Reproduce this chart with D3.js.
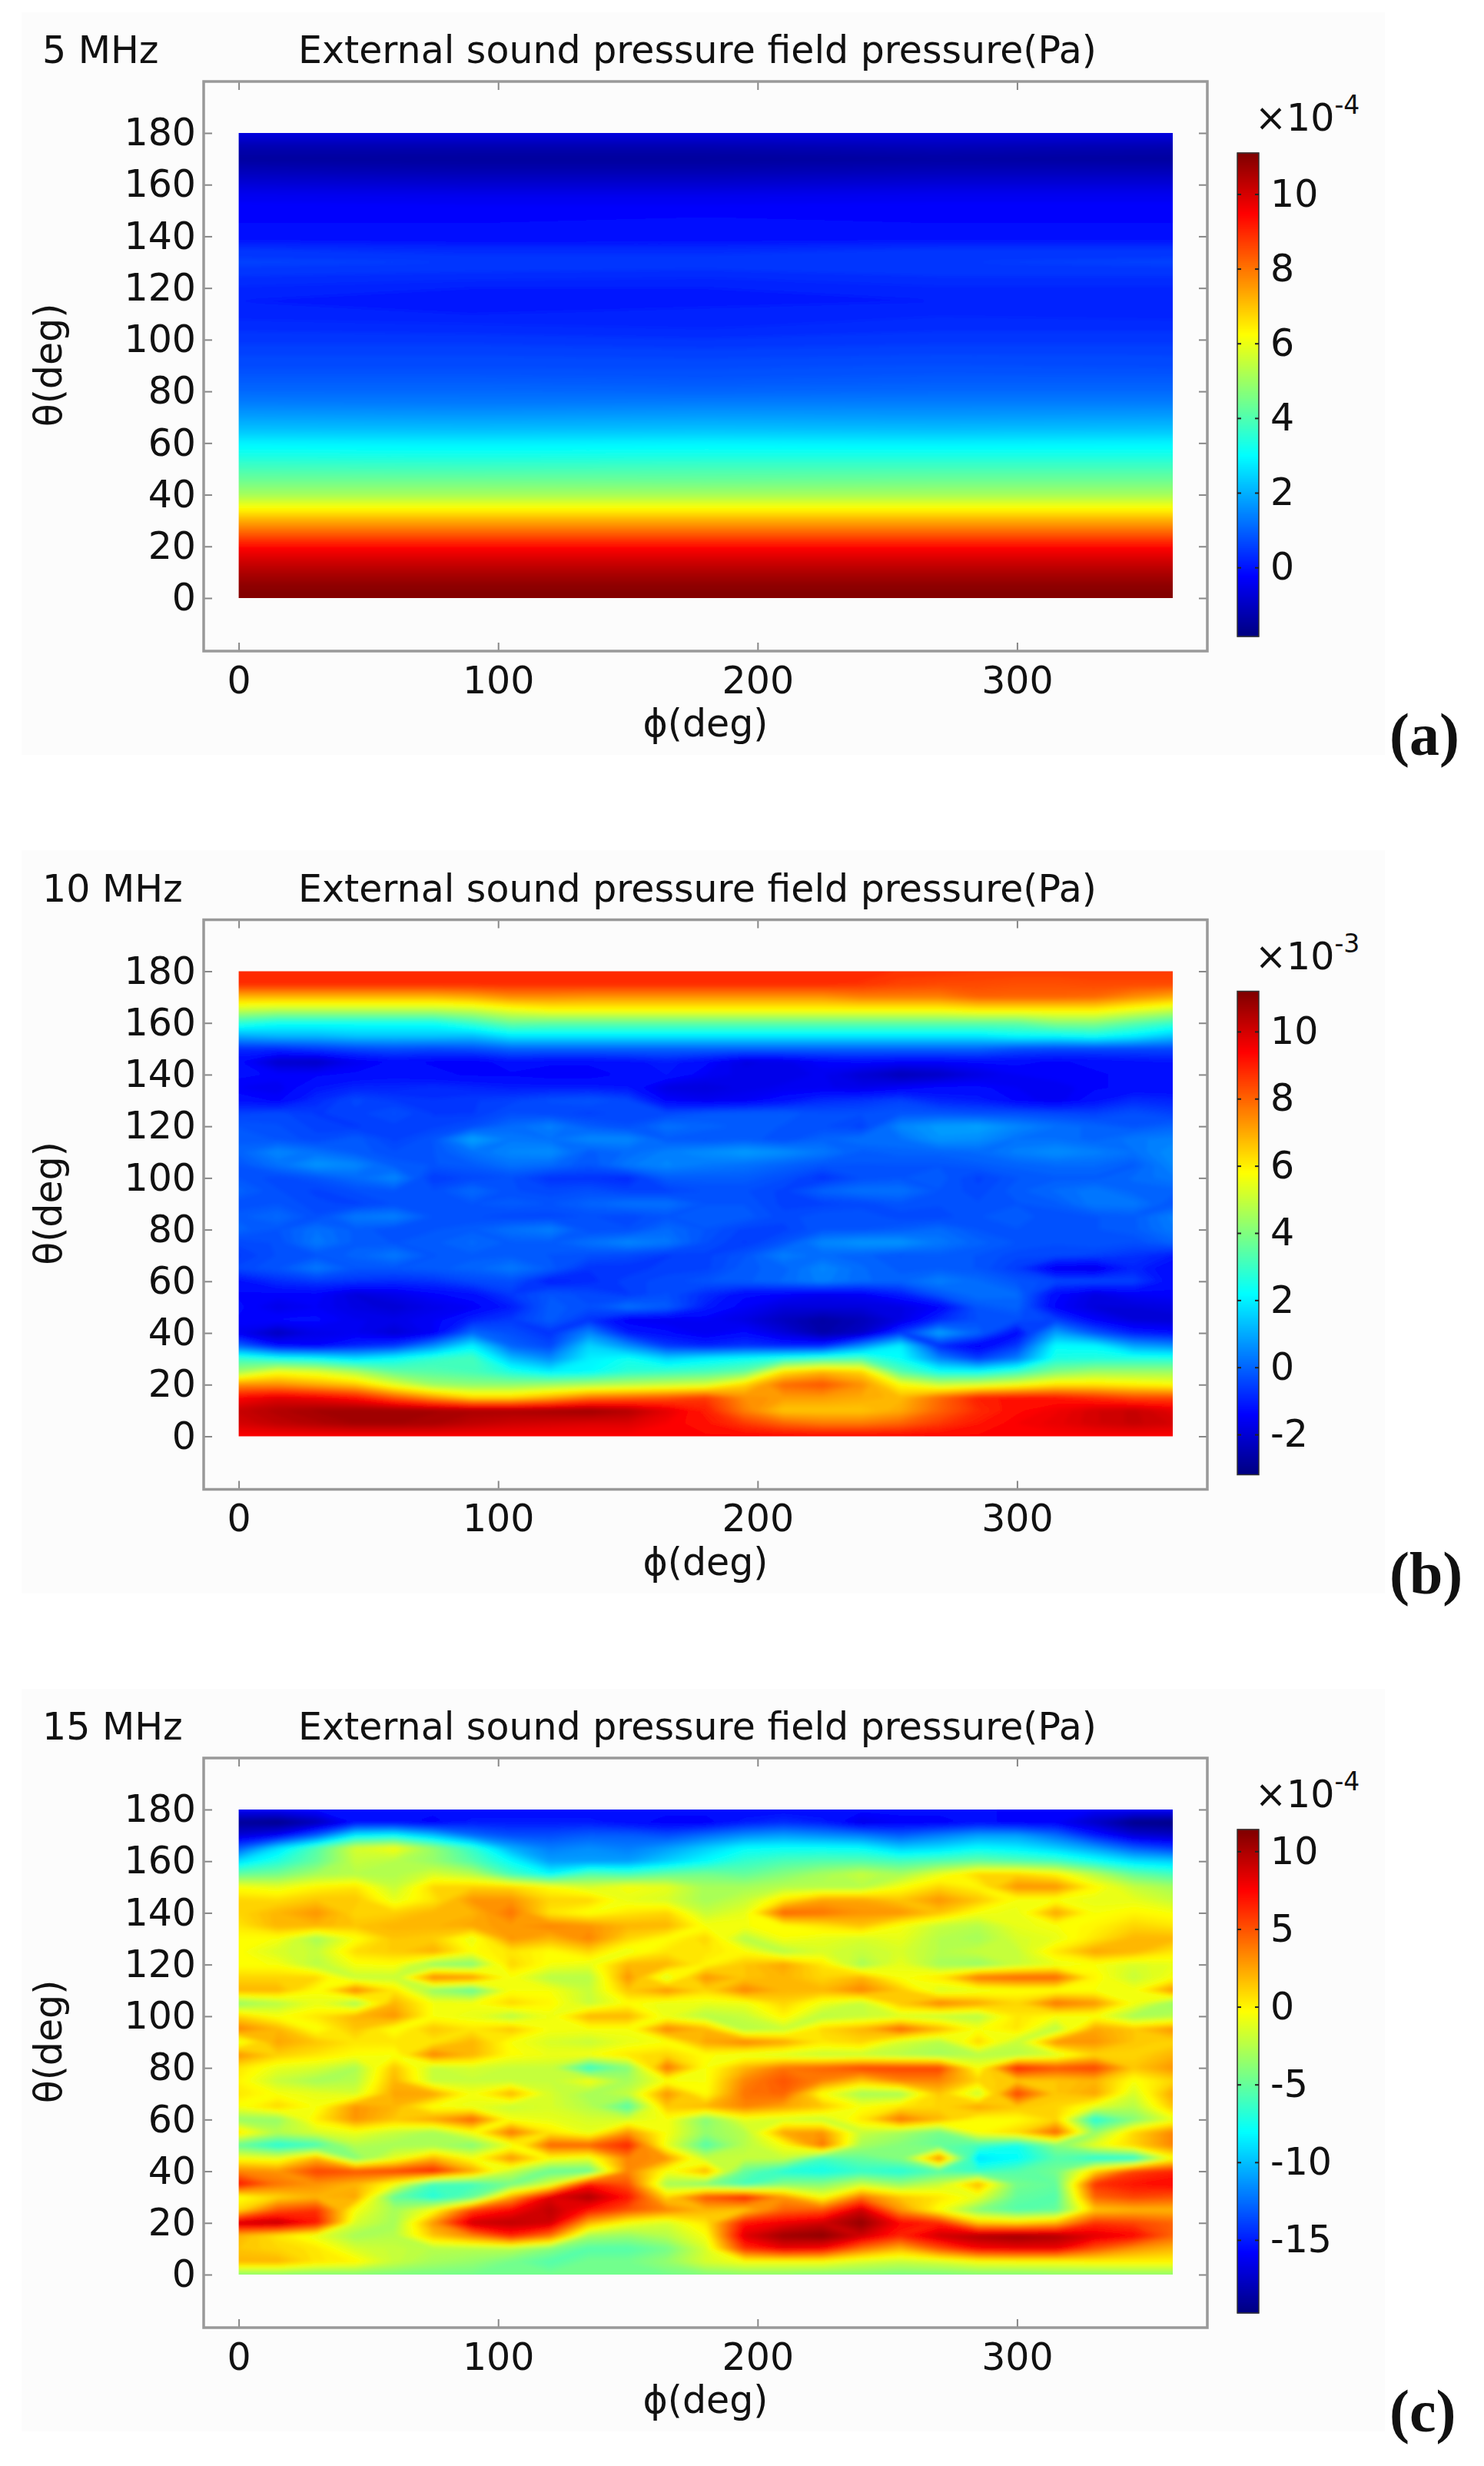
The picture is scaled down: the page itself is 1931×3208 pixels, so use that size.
<!DOCTYPE html>
<html>
<head>
<meta charset="utf-8">
<script src="https://cdnjs.cloudflare.com/ajax/libs/d3/7.8.5/d3.min.js"></script>
<style>
  body { margin: 0; background: #fff; }
  text { font-family: "DejaVu Sans", sans-serif; fill: #111; }
</style>
</head>
<body>
<svg id="chart" width="1931" height="3208"></svg>
<script>
// External sound pressure field, three frequencies

const xTicks = [0, 100, 200, 300];
const yTicks = [0, 20, 40, 60, 80, 100, 120, 140, 160, 180];
const thetaStep = 5;

const labels = ['5 MHz', '10 MHz', '15 MHz'];
const letters = ['(a)', '(b)', '(c)'];
const exponents = ['-4', '-3', '-4'];
const barTicks = [[0, 2, 4, 6, 8, 10], [-2, 0, 2, 4, 6, 8, 10], [-15, -10, -5, 0, 5, 10]];
const barRanges = [[-1.85, 11.1], [-3.2, 11.2], [-19.7, 11.4]];

// pressure, rows go from theta 180 down to 0
// 5 MHz, columns at phi 0, 90, 180, 270, 360
const values5 = [
  [-0.6, -0.6, -0.6, -0.6, -0.6],
  [-1.2, -1.2, -1.2, -1.1, -1.2],
  [-1.45, -1.5, -1.5, -1.4, -1.45],
  [-1.1, -1.2, -1.2, -1.1, -1.1],
  [-0.7, -0.8, -0.8, -0.7, -0.7],
  [-0.35, -0.4, -0.4, -0.35, -0.35],
  [-0.25, -0.25, -0.25, -0.25, -0.25],
  [-0.2, -0.2, -0.15, -0.2, -0.2],
  [-0.1, -0.2, -0.15, -0.1, -0.1],
  [0.4, 0.3, 0.3, 0.4, 0.4],
  [0.55, 0.5, 0.5, 0.5, 0.55],
  [0.4, 0.35, 0.3, 0.4, 0.4],
  [0.25, 0.15, 0.15, 0.25, 0.25],
  [0.15, 0.05, 0.1, 0.15, 0.15],
  [0.2, 0.15, 0.2, 0.25, 0.2],
  [0.35, 0.3, 0.25, 0.35, 0.35],
  [0.45, 0.45, 0.4, 0.45, 0.45],
  [0.6, 0.6, 0.55, 0.6, 0.6],
  [0.7, 0.7, 0.7, 0.75, 0.7],
  [0.9, 0.9, 0.85, 0.9, 0.9],
  [1.1, 1.1, 1.05, 1.1, 1.1],
  [1.4, 1.35, 1.4, 1.4, 1.4],
  [1.8, 1.75, 1.8, 1.75, 1.8],
  [2.25, 2.2, 2.25, 2.2, 2.25],
  [2.85, 2.8, 2.85, 2.8, 2.85],
  [3.35, 3.3, 3.35, 3.35, 3.35],
  [3.9, 3.85, 3.9, 3.9, 3.9],
  [4.45, 4.45, 4.4, 4.45, 4.45],
  [5.1, 5.1, 5.1, 5.1, 5.1],
  [6.2, 6.2, 6.2, 6.2, 6.2],
  [7.3, 7.3, 7.3, 7.3, 7.3],
  [8.3, 8.3, 8.3, 8.3, 8.3],
  [9.4, 9.4, 9.4, 9.4, 9.4],
  [10.0, 10.0, 10.0, 10.0, 10.0],
  [10.5, 10.5, 10.5, 10.5, 10.5],
  [10.9, 10.9, 10.9, 10.9, 10.9],
  [11.1, 11.1, 11.1, 11.1, 11.1]
];

// 10 MHz, columns every 15 deg of phi
const values10 = [
  [8.8,8.8,8.8,8.8,8.8,8.8,8.8,8.8,8.8,8.8,8.8,8.8,8.8,8.8,8.8,8.8,8.8,8.7,8.7,8.6,8.6,8.6,8.6,8.6,8.6],
  [8.8,8.8,8.8,8.8,8.8,8.8,8.8,8.8,8.8,8.8,8.8,8.8,8.8,8.8,8.8,8.8,8.7,8.5,8.4,8.4,8.3,8.3,8.4,8.4,8.4],
  [6.8,6.8,6.8,6.8,6.8,6.8,7.0,7.4,7.4,7.3,7.3,7.3,7.3,7.3,7.3,7.3,7.6,7.6,7.6,8.0,8.0,8.0,7.9,7.4,7.0],
  [5.0,4.8,4.8,4.8,4.8,4.8,5.0,5.5,5.8,5.8,5.8,5.8,5.8,5.8,5.8,5.8,5.8,5.8,5.8,6.0,6.0,6.0,6.0,5.5,5.0],
  [2.8,2.4,2.4,2.4,2.4,2.4,3.0,3.7,3.6,3.6,3.6,3.6,3.6,3.6,3.6,3.6,3.6,3.6,3.6,3.6,3.6,4.1,4.1,3.5,3.0],
  [1.0,1.2,1.2,1.4,1.4,1.4,1.3,1.9,1.9,1.9,1.9,1.9,1.9,1.9,1.9,1.9,1.9,1.9,1.9,1.9,2.2,2.2,2.4,2.0,1.4],
  [-0.8,-0.8,-0.6,-0.4,-0.3,-0.4,-0.3,0,0,0,0,0,0,0,0,0,0,0,0,0,-0.3,-0.4,-0.4,-0.4,-0.4],
  [-1.3,-2.1,-2.2,-1.6,-1.3,-1.4,-1.5,-1.2,-1.3,-1.3,-1.2,-1.0,-1.3,-1.8,-1.7,-1.4,-1.3,-1.4,-1.4,-1.3,-1.3,-1.4,-1.3,-1.2,-1.1],
  [-1.3,-1.4,-1.4,-1.3,-1.2,-1.3,-1.4,-1.4,-1.5,-1.5,-1.3,-1.1,-1.5,-1.7,-1.7,-1.6,-2.0,-2.4,-2.2,-1.8,-1.5,-1.4,-1.4,-1.3,-1.3],
  [-1.5,-1.6,-1.1,-0.9,-0.9,-0.8,-0.9,-1,-1,-1,-1.1,-1.8,-1.9,-1.7,-1.6,-1.6,-1.7,-1.5,-1.3,-1.3,-1.5,-1.6,-1.4,-1.3,-1.3],
  [-1.2,-1.4,-0.8,-0.4,-0.6,-0.7,-0.6,-0.5,-0.3,-0.2,-0.4,-1.4,-1.6,-1.5,-1.2,-0.8,-0.7,-0.5,-0.9,-1,-1.4,-1.6,-1.2,-0.8,-0.9],
  [-0.5,-0.4,-0.6,-0.5,-0.3,-0.6,-0.6,-0.3,-0.4,-0.5,-0.4,-0.4,-0.2,-0.1,-0.1,-0.3,-0.3,-0.2,-0.2,-0.3,-0.3,-0.4,-0.5,-0.3,-0.5],
  [-0.2,-0.3,-0.5,-0.6,-0.5,-0.5,-0.3,0.1,0.4,-0.1,-0.3,0.2,0,-0.1,-0.2,-0.3,-0.5,0.5,0.8,0.9,0.5,0.2,0,-0.2,0],
  [-0.1,-0.2,-0.4,-0.1,-0.5,-0.2,0.9,0.3,0.2,0.5,0.5,-0.1,-0.2,-0.1,-0.3,0,0.2,0.2,0.7,0.6,0.2,0.2,0,0.3,0.4],
  [0,0.5,0.2,-0.1,-0.3,-0.2,0.2,0.5,0.6,-0.1,0.1,0.4,0.6,0.8,0.6,0.3,-0.1,0,0,0.1,0.4,0.6,0.4,0.2,0.6],
  [-0.2,0.2,0.7,0.5,-0.1,-0.2,-0.1,0.2,0.1,-0.2,0.3,0.5,0.3,0.2,0,-0.2,-0.2,-0.2,-0.2,-0.1,0,0.1,0.1,-0.1,0.5],
  [-0.2,-0.4,-0.2,0.1,0.5,-0.6,-0.4,-0.3,-0.7,-0.7,-0.8,-0.1,-0.1,-0.1,-0.3,-0.7,-0.3,-0.2,-0.1,-0.5,-0.2,-0.1,-0.1,0.1,0.3],
  [0,-0.3,-0.5,-0.3,-0.2,-0.3,0.1,-0.3,-0.4,-0.3,-0.5,-0.5,-0.3,-0.3,-0.5,0,0.2,0.2,-0.2,-0.4,-0.1,0.1,0.3,0,0],
  [-0.3,-0.2,-0.4,-0.5,-0.3,-0.3,-0.2,-0.1,-0.2,0,0.2,0.2,-0.2,-0.2,-0.5,-0.5,-0.4,-0.2,-0.3,-0.3,-0.2,-0.1,0.3,0.3,-0.2],
  [-0.1,0.1,-0.3,0.3,0.4,-0.2,-0.3,-0.4,-0.4,-0.3,-0.4,-0.2,-0.1,-0.1,-0.4,-0.2,-0.2,-0.4,-0.4,-0.2,-0.1,-0.3,-0.2,-0.1,0.4],
  [0,-0.2,0.2,-0.1,-0.3,-0.2,-0.1,0.2,0.4,-0.3,-0.3,0.1,-0.2,-0.5,-0.5,-0.2,-0.2,-0.1,0.1,-0.2,-0.2,-0.3,-0.2,-0.1,0.3],
  [-0.4,-0.3,0.3,-0.1,-0.2,-0.1,0.1,-0.1,-0.1,0.2,0.5,0.3,-0.3,-0.6,-0.2,0.5,0.7,0.7,0.3,0,-0.2,-0.3,-0.2,-0.3,0],
  [-0.6,-0.3,-0.2,0,0.3,-0.2,-0.1,-0.1,-0.2,-0.3,-0.4,-0.6,-0.5,-0.2,0.4,0.1,0,-0.2,-0.1,-0.2,-0.4,-0.4,-0.5,-0.7,-1],
  [-0.4,-0.2,0.3,-0.2,-0.2,-0.1,0,0.3,-0.1,-0.7,-0.7,-0.5,-0.5,-0.1,0,0.5,0.1,-0.1,-0.1,-0.2,-0.6,-1.6,-1.7,-0.9,-1.3],
  [-1.2,-0.8,-0.6,-0.7,-0.8,-0.7,-0.4,-0.3,-1.0,-0.8,-0.5,-0.4,-0.2,-0.1,0.1,0.4,0.1,0,0.4,0.1,-0.2,-0.4,-0.4,-0.5,-1.3],
  [-1.4,-1.4,-1.4,-1.9,-1.7,-1.4,-1.2,-0.6,-0.2,-0.4,-0.6,-0.3,-0.8,-1.3,-1.4,-1.6,-1.5,-1.0,-0.2,0.2,0.1,-1.3,-1.8,-1.5,-1.4],
  [-1.3,-1.7,-1.5,-1.8,-2,-1.7,-1.5,-1,-0.1,-0.3,0.2,-0.1,-1.0,-1.5,-1.9,-1.9,-1.9,-1.8,-1.4,-0.2,0,-1.4,-1.9,-1.9,-1.8],
  [-1.4,-1.3,-1.3,-1.6,-1.7,-1.5,-0.9,-0.6,-0.1,-0.7,-1.5,-1.6,-1.5,-1.8,-2.3,-2.7,-2.4,-1.8,-0.8,-0.3,-0.3,-0.5,-1.4,-1.9,-2.0],
  [-1.6,-2.3,-1.7,-1.6,-2.0,-1.5,0.1,-0.3,-0.7,0.5,-1.0,-1.3,-1.6,-1.3,-1.9,-2.6,-2.2,-0.6,0.9,0,-1.3,0.9,-0.2,-1.0,-1.2],
  [0,-1.2,-1.4,-0.9,-0.6,0.6,2,0,-0.4,1.6,0.6,-0.6,-0.9,-0.7,-0.9,-0.9,0.6,2.0,-0.8,-1.5,-0.6,2.2,2.1,0.9,0.6],
  [3.0,2.5,2.3,1.8,2.3,2.9,3.2,1.3,0.6,2.0,2.4,1.6,2.0,2.3,2.7,3.1,3.3,2.3,0.5,-0.5,0.4,2.6,2.7,2.7,2.7],
  [4.5,5.6,5.3,4.6,3.6,3.4,3.2,2.6,2.0,2.2,2.8,3.0,3.2,3.6,6.2,6.8,6.4,3.4,2.4,2.3,3.0,4,4.4,4.4,4.4],
  [7.4,7.4,7.0,6.6,5.4,4.4,4.2,4.2,4.4,4.6,4.8,5,5.2,6.4,7.9,8.2,7.4,5.8,5.0,5.2,5.6,6.2,6.2,6.0,5.8],
  [9.4,9.8,9.6,9.2,8.2,7.3,6.4,6.4,7,7.8,8,8.2,8.6,7.4,7.2,7.2,7.0,6.8,7.9,9,9.2,9.1,8.8,8.4,8.4],
  [10.2,10.5,10.7,10.8,10.8,10.7,10.6,10.6,10.7,10.8,10.5,9.8,9.0,7.6,6.6,6.6,6.6,7.0,8,8.8,9.3,9.6,10,10.2,9.8],
  [10,10.3,10.5,10.7,10.7,10.6,10.3,10.1,10,9.9,9.9,9.5,9.2,8.6,8,7.7,7.7,8,8.6,9.1,9.5,9.7,10,10.2,10],
  [9.4,9.4,9.4,9.4,9.4,9.4,9.4,9.4,9.4,9.4,9.4,9.4,9.4,9.4,9.4,9.4,9.4,9.4,9.4,9.4,9.4,9.4,9.4,9.4,9.4]
];

// 15 MHz, columns every 15 deg of phi
const values15 = [
  [-16,-16,-15.5,-15.5,-15.5,-15.5,-15.5,-15.5,-15.5,-15.5,-15.5,-15.5,-15.5,-15.5,-15.5,-15.5,-15.5,-15.5,-15.5,-15.5,-16,-16,-16,-16,-16],
  [-19,-19.3,-18,-15.5,-15.5,-16,-15,-15,-15,-15,-15.5,-16,-16,-15,-14.5,-15,-16.5,-16,-16,-15.5,-16,-16,-17.5,-19.3,-19.5],
  [-17,-16,-13,-8.5,-8,-10,-12.5,-13.5,-13.5,-13,-13,-13.5,-12.5,-11.5,-11,-11.5,-12,-13,-12,-11,-11,-12.5,-15,-17,-17.5],
  [-13,-9,-5.5,-1.5,-0.5,-3.5,-6.5,-10.5,-12,-11.5,-12,-11,-9.5,-8,-7.8,-7.8,-8,-9.5,-9,-8,-8.5,-9.5,-11,-13,-14],
  [-9,-7,-5,-2,-2.5,-3.5,-5.5,-8,-11,-11,-11,-9.5,-8,-6.5,-5.8,-5.5,-5.5,-6,-5.5,-5,-5.5,-6,-7.5,-9,-9.5],
  [-5,-4.5,-3,-2.5,-2.7,-1.5,-2.5,-6,-8,-5.5,-6,-5,-4.5,-5,-4,-3,-2,-3,-1,1,1,0,-2.5,-5,-6],
  [-0.5,-1,0,0.5,-2,1,1.2,1,-0.3,-1.5,-0.5,-1,-3,-3,-2.5,-2.5,-2.5,-0.5,1,0,3,3,0,-2,-3],
  [1,0.8,1.5,1.5,-1,0.5,3,3,1,1,-1,-1.5,-3,-2,0.5,2.5,2.5,1.5,3,1.5,-0.5,-0.5,-1,-1,-2],
  [1,2,3,1,1.2,2,2,4,0.5,-0.5,0.5,1,-2,-1,4.5,4,3,3,1.5,-0.5,-1,2.5,-0.5,0,-0.5],
  [0.5,2,2,1.5,2,2,2.5,2.8,3.5,3,2,2,-0.5,-0.5,-0.3,0.5,1.5,-0.5,-2,-2.5,-1,-0.5,0,1,0.5],
  [-0.3,-0.5,-3,-0.5,1.5,1.2,-1,3,2,3.5,1,-0.3,1,-2.5,-0.5,-1,-1.5,-1,-2.5,-3,-1.5,-1,0.5,2,2],
  [-0.3,-1.5,-2,0.8,1.3,2.2,-0.3,0.5,-0.3,1,-1,0.5,0.5,-0.3,-2.5,-1.5,-2,-1.5,-2.5,-2,-2,0.5,2.5,2,0.5],
  [-0.4,-0.5,-2.5,-0.5,-0.3,-3.5,-4,1,-0.5,-1,2,2,0,1.5,2.5,0.5,-3,-1,-3,-3.5,-2,-1,-0.5,-1.5,-1],
  [1,1,1,-2,-2,3.5,3,-0.5,-2.5,-2.5,3,-1.5,3,1.5,2,1,2,-0.5,0.5,4,4.5,4.5,0,-2,-0.5],
  [2,2,-0.3,3.5,0.5,-3.5,-5,-0.5,-0.5,-2,1.5,3,1,3.5,2,2,3.5,1.5,-1.5,-1,-0.5,-0.5,-0.5,-0.5,3],
  [-3.5,-2.5,-1,-3,2,-0.5,-0.5,1,0,-2,-0.3,-1,-1,-0.8,1,-0.8,-2,1.5,3.5,2.5,1,4,3,-0.5,-3.5],
  [1,-0.5,0.5,2,3,-0.5,-1,-2.5,-0.8,2,2,-1,-2.5,-2,0,-2.5,-2,-1.5,-2,-2.5,0.5,-0.5,-0.5,-3,-2.5],
  [3.5,2,-0.5,1.5,-0.5,1.5,0.5,1.5,-0.5,-0.5,-0.5,3.5,2,-2.5,-2,1,2,4.5,2,-0.5,0.5,-2.5,2.5,1.5,3],
  [-1,2.5,1.5,0.5,0.5,0.5,2,-0.5,-1.5,-2,-1,-0.5,2.5,3.5,2.5,0.5,1,-1.5,-2.5,1,-2,3,3,1.5,1],
  [3,1.2,0.5,-0.3,-0.5,3.5,2,-0.3,-0.8,-0.5,0.5,1,-0.3,-1,-1.5,-2,-2,-2.5,-3,-2.5,-2.5,-1.5,1,1,2],
  [0.5,-1,-1.5,-2.8,1.5,-2,-1.5,-2,-2,-6.5,-4,4,-0.5,2,4,4.5,5.5,5.5,5.5,-0.5,6.5,5,5.5,1.5,3],
  [0,-2,-3,-2.5,2,-2,-2,-2,-2,-0.5,-3,-0.5,-0.5,3.5,5,3.5,1.5,3.5,3.5,1,1.5,1.5,2,-0.5,1],
  [0.5,-0.5,-1,-1.5,2.5,2.5,-0.5,2,-1.5,-3,-2,3,-0.3,4,4.5,-0.5,-3,-3,1.5,-2,5.5,1.5,2.5,-1.5,2.5],
  [-0.5,1,-0.5,3,2,-0.5,-1,-2,-1.5,-2.5,-5.5,1.5,2,3.5,2.5,1.5,-0.5,0.5,1,2.5,1.5,1,-1,-2.5,1.5],
  [-3.5,-3.5,0.3,3,1.5,2.5,4.5,-0.5,-1,-1.5,-1.5,-0.5,-4,-1,-1.5,-2,0.5,4,2,-0.3,-0.3,1,-7,-4,-1],
  [0.5,-2.5,-1.5,-0.8,-2,-3,-0.5,4,0.5,-1,3,-0.5,-3.5,-2.5,2.5,3,-2,-3,-4.5,-0.3,1,4.5,-3.5,1,3.5],
  [-5,-7,-6,-2.5,-3,-3,-4,-1,4.5,4.5,6.5,-1,-5.5,-2.5,-0.5,4,-3,-4,-5,-6,-7.5,-4,-1,1,3.5],
  [-0.5,-1,2,-4,-1,2,-0.5,3,-0.3,-1,3.5,3,-2,-2,-2,-6,-5,-4,3.5,-9,-8,-5.5,-7,-7,-0.5],
  [3.5,3,5.5,5,5.5,6.5,2.5,-2,-5,-5,3.5,-0.5,2,-5,-7,-7.5,-6.5,-7,-5.5,-6.5,-5.5,-4.5,1,5.5,6.5],
  [7,4,3,2,-0.5,-6,-6,-4.5,-1.5,7,5,-3,-4,-6,-4,-4,-2,-3.5,-2,2,-4.5,-5,6,7,7.5],
  [-0.5,1,2,2.5,-5,-7,-5,2.5,8.5,10,7,1,5,6.5,3,-0.5,4,1.5,0.5,-1,-5,-5.5,4.5,5.5,5],
  [1,5,6,-0.5,-3,-0.5,5.5,7.5,9.5,7,5,3.5,2,1.5,4.5,5,9,3,-0.5,-4,-5.5,-5,1.5,2,2],
  [9,9.5,7,-1.5,-3,3,9,9.5,9,2,-0.5,-1.5,0.5,7,8,9,10.8,7.5,6.5,1.5,1,2,6,5.5,4.5],
  [2,0.5,-1,-3,-2.5,1.5,3.5,6.5,4,-3,-3.5,-2.5,-0.5,8.5,10.5,11,9,6.5,9,10,10.5,10,8.5,7.5,4.5],
  [1.5,1,0.5,-1.5,-2,-2.5,-2.5,-2.5,-4,-5.5,-5.5,-4.5,-1.5,6,8,7.5,4,2,5,7.5,8,8,5,3,2],
  [2,2,0.5,0,-2,-3,-3.5,-4.5,-5.5,-4.5,-4.5,-3.5,-1.5,-0.5,-0.5,-0.5,-1.5,-2,-1.5,-0.5,-0.3,-0.3,0,0,0],
  [-3.8,-3.8,-4,-4,-4.2,-4.4,-4.5,-4.5,-4.5,-4.5,-4.5,-4.5,-4,-3.8,-3.8,-4,-4,-4.2,-4.2,-4,-4,-3.8,-3.8,-3.6,-3.6]
];

const grids = [values5, values10, values15];

// layout, panels repeat every 1090.5 px
const panelStep = 1090.5;
const plot = { left: 310.6, right: 1526, top: 173, bottom: 778 };
const frame = { left: 265, right: 1571, top: 106, bottom: 847 };
const bar = { left: 1610, right: 1638, top: 199, bottom: 828 };
const fontSize = 49;

// jet colormap as COMSOL draws it
const jet = d3.scaleLinear()
  .domain([0, 0.125, 0.375, 0.625, 0.875, 1])
  .range(['#00007f', '#0000ff', '#00ffff', '#ffff00', '#ff0000', '#7f0000']);

const svg = d3.select('#chart');

const x = d3.scaleLinear().domain([0, 360]).range([plot.left, plot.right]);
const y = d3.scaleLinear().domain([0, 180]).range([plot.bottom, plot.top]);

const defs = svg.append('defs');
defs.append('filter').attr('id', 'soften')
  .attr('x', '-5%').attr('y', '-5%').attr('width', '110%').attr('height', '110%')
  .append('feGaussianBlur').attr('stdDeviation', 2.5);
defs.append('clipPath').attr('id', 'plot-clip')
  .append('rect')
  .attr('x', plot.left).attr('y', plot.top)
  .attr('width', plot.right - plot.left).attr('height', plot.bottom - plot.top);

function drawPanel(i) {
  const grid = grids[i];
  const range = barRanges[i];
  const colour = d3.scaleSequential(v => jet(v)).domain(range);

  const g = svg.append('g').attr('transform', 'translate(0,' + (i * panelStep) + ')');

  g.append('rect')       // slightly grey backing of the screenshot
    .attr('x', 28).attr('y', 16)
    .attr('width', 1774).attr('height', 966)
    .attr('fill', '#fcfcfc');

  // field: stacked filled contours of the value grid
  const nRows = grid.length;
  const nCols = grid[0].length;
  const phiStep = 360 / (nCols - 1);
  const flat = d3.merge(grid);
  const thresholds = d3.range(range[0], range[1], (range[1] - range[0]) / 110);
  const contours = d3.contours().size([nCols, nRows]).thresholds(thresholds)(flat);

  // contour coordinates are offset half a cell from the grid points
  const project = d3.geoTransform({
    point: function (cx, cy) {
      this.stream.point(x((cx - 0.5) * phiStep), y(180 - (cy - 0.5) * thetaStep));
    }
  });
  const path = d3.geoPath(project);

  const field = g.append('g').attr('clip-path', 'url(#plot-clip)')
    .append('g').attr('filter', 'url(#soften)');

  field.append('rect')
    .attr('x', plot.left - 20).attr('y', plot.top - 20)
    .attr('width', plot.right - plot.left + 40).attr('height', plot.bottom - plot.top + 40)
    .attr('fill', colour(range[0]));

  field.selectAll('path')
    .data(contours)
    .enter()
    .append('path')
    .attr('d', path)
    .attr('fill', d => colour(d.value + (range[1] - range[0]) / 220));

  // frame with inward ticks on all four sides
  const xBottom = d3.axisBottom(x).tickValues(xTicks).tickSize(-11).tickPadding(20);
  const xTop = d3.axisTop(x).tickValues(xTicks).tickSize(-11).tickFormat('');
  const yLeft = d3.axisLeft(y).tickValues(yTicks).tickSize(-11).tickPadding(10);
  const yRight = d3.axisRight(y).tickValues(yTicks).tickSize(-11).tickFormat('');

  const axes = [
    [xBottom, 'translate(0,' + frame.bottom + ')'],
    [xTop, 'translate(0,' + frame.top + ')'],
    [yLeft, 'translate(' + frame.left + ',0)'],
    [yRight, 'translate(' + frame.right + ',0)']
  ];
  axes.forEach(function (a) {
    const ag = g.append('g').attr('transform', a[1]).call(a[0]);
    ag.select('.domain').remove();
    ag.selectAll('line').attr('stroke', '#888').attr('stroke-width', 2);
    ag.selectAll('text').attr('font-size', fontSize).attr('font-family', null).attr('fill', '#111');
  });

  g.append('rect')
    .attr('x', frame.left).attr('y', frame.top)
    .attr('width', frame.right - frame.left).attr('height', frame.bottom - frame.top)
    .attr('fill', 'none').attr('stroke', '#999').attr('stroke-width', 3.5);

  // colour bar
  const barScale = d3.scaleLinear().domain(range).range([bar.bottom, bar.top]);
  const barSteps = d3.range(0, 256).map(d => range[0] + (range[1] - range[0]) * (d + 0.5) / 256);
  const cell = (bar.bottom - bar.top) / 256;
  g.selectAll('.bar-cell')
    .data(barSteps)
    .enter()
    .append('rect')
    .attr('class', 'bar-cell')
    .attr('x', bar.left)
    .attr('width', bar.right - bar.left)
    .attr('y', d => barScale(d) - cell / 2 - 0.5)
    .attr('height', cell + 1)
    .attr('fill', d => colour(d));
  g.append('rect')
    .attr('x', bar.left).attr('y', bar.top)
    .attr('width', bar.right - bar.left).attr('height', bar.bottom - bar.top)
    .attr('fill', 'none').attr('stroke', '#333').attr('stroke-width', 1.5);

  const barAxis = d3.axisRight(barScale).tickValues(barTicks[i]).tickSize(0).tickPadding(15)
    .tickFormat(d => String(d));   // plain hyphen like the original
  const barG = g.append('g').attr('transform', 'translate(' + bar.right + ',0)').call(barAxis);
  barG.select('.domain').remove();
  barG.selectAll('text').attr('font-size', fontSize).attr('font-family', null).attr('fill', '#111');
  barG.selectAll('.tick').append('line')
    .attr('x1', -5).attr('x2', 0).attr('stroke', '#222').attr('stroke-width', 2);
  barG.selectAll('.tick').append('line')
    .attr('x1', -28).attr('x2', -23).attr('stroke', '#222').attr('stroke-width', 2);

  // texts
  const mult = g.append('text').attr('x', 1633).attr('y', 170).attr('font-size', fontSize);
  mult.append('tspan').text('\u00d710');
  mult.append('tspan').attr('dy', -22).attr('font-size', 33).text(exponents[i]);

  g.append('text').attr('x', 55).attr('y', 82).attr('font-size', fontSize).text(labels[i]);
  g.append('text').attr('x', 388).attr('y', 82).attr('font-size', fontSize)
    .text('External sound pressure field pressure(Pa)');
  g.append('text').attr('x', 918).attr('y', 958).attr('text-anchor', 'middle').attr('font-size', fontSize)
    .text('\u03d5(deg)');
  g.append('text').attr('transform', 'translate(80,475) rotate(-90)').attr('text-anchor', 'middle')
    .attr('font-size', fontSize).text('\u03b8(deg)');
  g.append('text').attr('x', 1808).attr('y', 982).attr('font-size', 78).attr('font-weight', 'bold')
    .style('font-family', '"Liberation Serif", serif').text(letters[i]);
}

labels.forEach(function (d, i) { drawPanel(i); });
</script>
</body>
</html>
